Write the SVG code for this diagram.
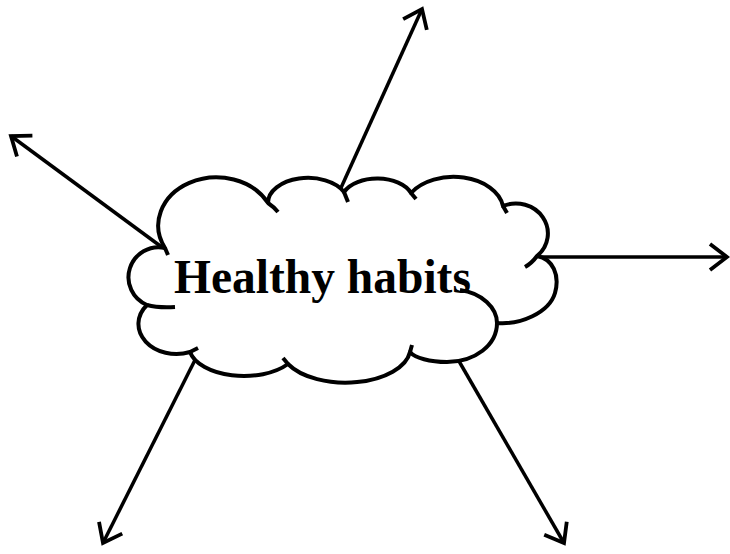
<svg xmlns="http://www.w3.org/2000/svg" width="730" height="554" viewBox="0 0 730 554">
<style>
.conn{stroke:#000;stroke-width:3.5;fill:none;marker-end:url(#ah)}
.cloud{fill:#fff;stroke:none}
.outline{fill:none;stroke:#000;stroke-width:4;stroke-linejoin:round}
.stub{fill:none;stroke:#000;stroke-width:4;stroke-linecap:butt}
.lbl{font-family:"Liberation Serif","Times New Roman",serif;font-weight:bold;font-size:47.5px;fill:#000}
</style>
<defs>
<marker id="ah" markerUnits="userSpaceOnUse" markerWidth="30" markerHeight="34" viewBox="0 0 30 34" refX="22" refY="17" orient="auto">
<path d="M5,4 L22,17 L5,30" fill="none" stroke="#000" stroke-width="3.8" stroke-linejoin="miter"/>
</marker>
</defs>
<g id="connectors">
<line class="conn" x1="340" y1="190" x2="422" y2="9"/>
<line class="conn" x1="163" y1="248" x2="11" y2="136"/>
<line class="conn" x1="540" y1="257" x2="727" y2="257"/>
<line class="conn" x1="196" y1="358" x2="103" y2="543"/>
<line class="conn" x1="456" y1="356" x2="564" y2="543"/>
</g>
<g id="cloud">
<path id="cloudfill" class="cloud" d="M147,305 A30 30 0 0 1 165,248 A58 48 0 0 1 268,203 A40 25 0 0 1 344,192 A36 22 0 0 1 411,193 A50 34 0 0 1 503,206 A32 30 0 0 1 537,256 C553,259 560,275 555,293 C549,313 520,325 497,323 C497,345 475,362 447,362 C430,362 415,358 410,352 A65 35 0 0 1 288,364 A55 30 0 0 1 190,352 A38 30 0 0 1 147,305 Z"/>
<text class="lbl" x="174" y="293">Healthy habits</text>
<path class="outline" d="M147,305 A30 30 0 0 1 165,248 A58 48 0 0 1 268,203 A40 25 0 0 1 344,192 A36 22 0 0 1 411,193 A50 34 0 0 1 503,206 A32 30 0 0 1 537,256 C553,259 560,275 555,293 C549,313 520,325 497,323 C497,345 475,362 447,362 C430,362 415,358 410,352 A65 35 0 0 1 288,364 A55 30 0 0 1 190,352 A38 30 0 0 1 147,305 Z"/>
<path class="stub" d="M147,305 Q158,308 175,307"/>
<path class="stub" d="M165,248 L168,255"/>
<path class="stub" d="M268,203 Q274,207 278,212"/>
<path class="stub" d="M344,192 L348,202"/>
<path class="stub" d="M411,193 L416,199"/>
<path class="stub" d="M503,206 L507,213"/>
<path class="stub" d="M537,256 Q532,263 525,267"/>
<path class="stub" d="M497,323 C497,308 482,293 460,290"/>
<path class="stub" d="M410,352 L412,345"/>
<path class="stub" d="M288,364 L283,358"/>
<path class="stub" d="M190,352 L198,348"/>
</g>
</svg>
